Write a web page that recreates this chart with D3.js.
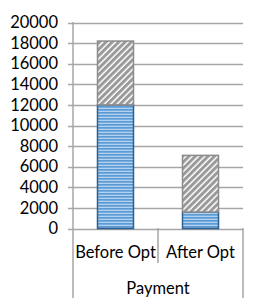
<!DOCTYPE html>
<html>
<head>
<meta charset="utf-8">
<script src="https://cdn.jsdelivr.net/npm/d3@7"></script>
<style>
  body { margin: 0; background: #fff; }
  text { font-family: Lato, "Open Sans", sans-serif; fill: #000; }
</style>
</head>
<body>
<div class="chart"></div>
<script>
var categories = ["Before Opt", "After Opt"];
var baseValues = [12000, 1600];
var topValues = [6200, 5500];
var yTicks = [0, 2000, 4000, 6000, 8000, 10000, 12000, 14000, 16000, 18000, 20000];
var groupLabel = "Payment";

var svgWidth = 266, svgHeight = 308;
var margin = { top: 22, right: 23, bottom: 80, left: 73 };
var width = svgWidth - margin.left - margin.right;
var height = svgHeight - margin.top - margin.bottom;

var svg = d3.select(".chart").append("svg")
    .attr("width", svgWidth)
    .attr("height", svgHeight);

// patterns
var defs = svg.append("defs");
var blue = defs.append("pattern")
    .attr("id", "stripes")
    .attr("patternUnits", "userSpaceOnUse")
    .attr("width", 4).attr("height", 3);
blue.append("rect").attr("width", 4).attr("height", 3).attr("fill", "#b4d2f0");
blue.append("rect").attr("width", 4).attr("height", 1.7).attr("fill", "#5b9bd5");

var hatch = defs.append("pattern")
    .attr("id", "hatch")
    .attr("patternUnits", "userSpaceOnUse")
    .attr("width", 4.5).attr("height", 4.5)
    .attr("patternTransform", "rotate(45)");
hatch.append("rect").attr("width", 4.5).attr("height", 4.5).attr("fill", "#ffffff");
hatch.append("rect").attr("width", 3).attr("height", 4.5).attr("fill", "#999999");

var chart = svg.append("g")
    .attr("transform", "translate(" + margin.left + "," + margin.top + ")");

var x = d3.scaleBand().domain(categories).range([0, width]).paddingInner(0).paddingOuter(0);
var y = d3.scaleLinear().domain([0, 20000]).range([height + 0.5, 0.5]);

// gridlines
chart.append("g")
    .selectAll("line")
    .data(yTicks)
    .enter().append("line")
    .attr("x1", -5).attr("x2", width)
    .attr("y1", function(d) { return Math.round(y(d)) + 0.5; })
    .attr("y2", function(d) { return Math.round(y(d)) + 0.5; })
    .attr("stroke", "#a6a6a6")
    .attr("stroke-width", 1.5);

// y labels
var yAxis = d3.axisLeft(y).tickValues(yTicks).tickFormat(d3.format("d")).tickSize(0).tickPadding(15);
var ya = chart.append("g").call(yAxis);
ya.select(".domain").remove();
ya.selectAll("text").attr("font-size", 16.5).style("font-family", "Lato, sans-serif");

// vertical axis lines
chart.append("line")
    .attr("x1", 0).attr("x2", 0)
    .attr("y1", 0).attr("y2", height + 70)
    .attr("stroke", "#a6a6a6").attr("stroke-width", 1.5);
chart.append("line")
    .attr("x1", width).attr("x2", width)
    .attr("y1", height).attr("y2", height + 70)
    .attr("stroke", "#a6a6a6").attr("stroke-width", 1.5);
chart.append("line")
    .attr("x1", x.bandwidth()).attr("x2", x.bandwidth())
    .attr("y1", height).attr("y2", height + 35)
    .attr("stroke", "#a6a6a6").attr("stroke-width", 1.5);

var barW = 36;

// bars
chart.selectAll(".base")
    .data(categories)
    .enter().append("rect")
    .attr("class", "base")
    .attr("x", function(d) { return x(d) + (x.bandwidth() - barW) / 2; })
    .attr("width", barW)
    .attr("y", function(d, i) { return y(baseValues[i]); })
    .attr("height", function(d, i) { return y(0) - y(baseValues[i]); })
    .attr("fill", "url(#stripes)")
    .attr("stroke", "#2e5f8f")
    .attr("stroke-width", 1.5);

chart.selectAll(".top")
    .data(categories)
    .enter().append("rect")
    .attr("class", "top")
    .attr("x", function(d) { return x(d) + (x.bandwidth() - barW) / 2; })
    .attr("width", barW)
    .attr("y", function(d, i) { return y(baseValues[i] + topValues[i]); })
    .attr("height", function(d, i) { return y(baseValues[i]) - y(baseValues[i] + topValues[i]); })
    .attr("fill", "url(#hatch)")
    .attr("stroke", "#8c8c8c")
    .attr("stroke-width", 1.5);

// category labels
chart.selectAll(".cat")
    .data(categories)
    .enter().append("text")
    .attr("class", "cat")
    .attr("x", function(d) { return x(d) + x.bandwidth() / 2; })
    .attr("y", height + 30)
    .attr("text-anchor", "middle")
    .attr("font-size", 16.5)
    .text(function(d) { return d; });

chart.append("text")
    .attr("x", width / 2)
    .attr("y", height + 66)
    .attr("text-anchor", "middle")
    .attr("font-size", 16.5)
    .text(groupLabel);
</script>
</body>
</html>
